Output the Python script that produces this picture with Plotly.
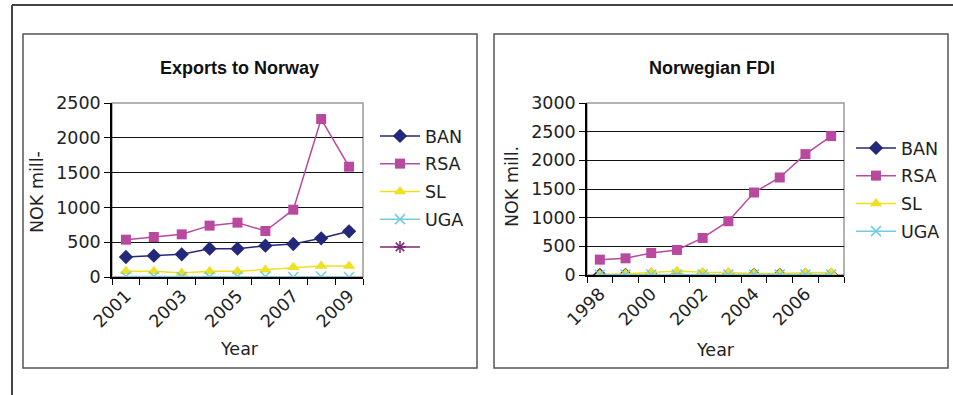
import plotly.graph_objects as go

W, H = 953, 395

# ---------------- data ----------------
exp_years = ["2001", "2002", "2003", "2004", "2005", "2006", "2007", "2008", "2009"]
exp_ban = [287, 306, 326, 407, 407, 450, 474, 556, 656]
exp_rsa = [536, 575, 613, 738, 781, 661, 967, 2270, 1585]
exp_sl = [81, 81, 57, 81, 81, 105, 139, 158, 158]
exp_uga = [8, 8, 2, 2, 8, 8, 0, 8, 0]

fdi_years = ["1998", "1999", "2000", "2001", "2002", "2003", "2004", "2005", "2006", "2007"]
fdi_ban = [0, 0, 0, 0, 0, 0, 0, 0, 0, 0]
fdi_rsa = [268, 291, 384, 437, 646, 938, 1439, 1701, 2108, 2423]
fdi_sl = [10, 20, 45, 70, 50, 45, 25, 25, 40, 45]
fdi_uga = [5, 8, 8, 8, 8, 8, 8, 8, 8, 8]

exp_yticks = [0, 500, 1000, 1500, 2000, 2500]
fdi_yticks = [0, 500, 1000, 1500, 2000, 2500, 3000]

# ---------------- styles ----------------
C_BAN = "#23287a"
C_RSA = "#b9499e"
C_SL = "#efe024"
C_UGA = "#74cbe0"
C_5 = "#7a2a78"
FONT = "DejaVu Sans"


def px(x):
    return x / W


def py(y):
    return 1 - y / H


fig = go.Figure()

series_style = [
    ("BAN", C_BAN, "diamond", 11),
    ("RSA", C_RSA, "square", 10),
    ("SL", C_SL, "triangle-up", 11),
    ("UGA", C_UGA, "x-thin-open", 10),
]

exp_series = [exp_ban, exp_rsa, exp_sl, exp_uga]
fdi_series = [fdi_ban, fdi_rsa, fdi_sl, fdi_uga]

for i, (name, col, sym, sz) in enumerate(series_style):
    mk = dict(symbol=sym, size=sz, color=col, line=dict(color=col, width=1.5 if "x" in sym else 0))
    fig.add_trace(go.Scatter(
        x=list(range(len(exp_years))), y=exp_series[i], name=name, mode="lines+markers",
        line=dict(color=col, width=1.5), marker=mk, xaxis="x", yaxis="y",
        legend="legend", legendgroup="e" + name, legendrank=i + 1))
fig.add_trace(go.Scatter(
    x=[None], y=[None], name=" ", mode="lines+markers",
    line=dict(color=C_5, width=1.5),
    marker=dict(symbol="asterisk-open", size=10, line=dict(color=C_5, width=1.5)),
    xaxis="x", yaxis="y", legend="legend", legendgroup="e5", legendrank=5))

for i, (name, col, sym, sz) in enumerate(series_style):
    mk = dict(symbol=sym, size=sz, color=col, line=dict(color=col, width=1.5 if "x" in sym else 0))
    fig.add_trace(go.Scatter(
        x=list(range(len(fdi_years))), y=fdi_series[i], name=name, mode="lines+markers",
        line=dict(color=col, width=1.5), marker=mk, xaxis="x2", yaxis="y2",
        legend="legend2", legendgroup="f" + name, legendrank=i + 1))

tickfont = dict(family=FONT, size=17.5, color="#222")


def xaxis_cfg(labels, dom):
    n = len(labels)
    return dict(
        domain=dom, range=[-0.5, n - 0.5], automargin=False,
        tickmode="array", tickvals=list(range(0, n, 2)), ticktext=labels[::2],
        ticks="", tickangle=-45, tickfont=tickfont,
        showline=True, linecolor="#000", linewidth=1.5, showgrid=False, zeroline=False,
        minor=dict(tickmode="array", tickvals=[k - 0.5 for k in range(n + 1)],
                   ticks="outside", ticklen=6, tickcolor="#000", tickwidth=1, showgrid=False),
        fixedrange=True,
    )


def yaxis_cfg(tv, dom):
    return dict(
        domain=dom, range=[0, tv[-1]], tickmode="array", tickvals=tv, automargin=False,
        ticks="outside", ticklen=6, tickcolor="#000", tickfont=tickfont,
        showline=True, linecolor="#000", linewidth=1.5,
        showgrid=True, gridcolor="#111", gridwidth=1, zeroline=False, fixedrange=True,
    )


ax1 = xaxis_cfg(exp_years, [px(112), px(363)]); ax1["anchor"] = "y"
ay1 = yaxis_cfg(exp_yticks, [py(277), py(103)]); ay1["anchor"] = "x"
ax2 = xaxis_cfg(fdi_years, [px(587), px(844)]); ax2["anchor"] = "y2"
ay2 = yaxis_cfg(fdi_yticks, [py(275), py(103)]); ay2["anchor"] = "x2"

legfont = dict(family=FONT, size=17.5, color="#222")

shapes = [
    dict(type="line", xref="paper", yref="paper", x0=px(12), x1=1, y0=py(5), y1=py(5),
         line=dict(color="#444", width=2)),
    dict(type="line", xref="paper", yref="paper", x0=px(12), x1=px(12), y0=py(5), y1=0,
         line=dict(color="#444", width=2)),
    dict(type="rect", xref="paper", yref="paper", x0=px(23), x1=px(477), y0=py(34), y1=py(368),
         line=dict(color="#555", width=1.5)),
    dict(type="rect", xref="paper", yref="paper", x0=px(494), x1=px(948), y0=py(34), y1=py(368),
         line=dict(color="#555", width=1.5)),
    dict(type="rect", xref="x domain", yref="y domain", x0=0, x1=1, y0=0, y1=1,
         line=dict(color="#999", width=1.5), layer="below"),
    dict(type="rect", xref="x2 domain", yref="y2 domain", x0=0, x1=1, y0=0, y1=1,
         line=dict(color="#999", width=1.5), layer="below"),
]

titlefont = dict(family="Liberation Sans", size=18, color="#111")
axtitlefont = dict(family=FONT, size=17.5, color="#222")
annotations = [
    dict(text="<b>Exports to Norway</b>", x=px(240), y=py(68), xref="paper", yref="paper",
         showarrow=False, font=titlefont, xanchor="center", yanchor="middle"),
    dict(text="<b>Norwegian FDI</b>", x=px(712), y=py(68), xref="paper", yref="paper",
         showarrow=False, font=titlefont, xanchor="center", yanchor="middle"),
    dict(text="NOK mill-", x=px(37), y=py(192), xref="paper", yref="paper", textangle=-90,
         showarrow=False, font=axtitlefont, xanchor="center", yanchor="middle"),
    dict(text="NOK mill.", x=px(512), y=py(187), xref="paper", yref="paper", textangle=-90,
         showarrow=False, font=axtitlefont, xanchor="center", yanchor="middle"),
    dict(text="Year", x=px(240), y=py(349), xref="paper", yref="paper",
         showarrow=False, font=axtitlefont, xanchor="center", yanchor="middle"),
    dict(text="Year", x=px(715), y=py(350), xref="paper", yref="paper",
         showarrow=False, font=axtitlefont, xanchor="center", yanchor="middle"),
]

fig.update_layout(
    width=W, height=H, margin=dict(l=0, r=0, t=0, b=0, autoexpand=False),
    paper_bgcolor="white", plot_bgcolor="white",
    xaxis=ax1, yaxis=ay1, xaxis2=ax2, yaxis2=ay2,
    shapes=shapes, annotations=annotations,
    legend=dict(x=px(375), y=py(118), xanchor="left", yanchor="top", font=legfont,
                bgcolor="rgba(0,0,0,0)", tracegroupgap=2, itemwidth=40),
    legend2=dict(x=px(851), y=py(130), xanchor="left", yanchor="top", font=legfont,
                 bgcolor="rgba(0,0,0,0)", tracegroupgap=2, itemwidth=40),
    showlegend=True,
)

fig.write_html("out.html")
